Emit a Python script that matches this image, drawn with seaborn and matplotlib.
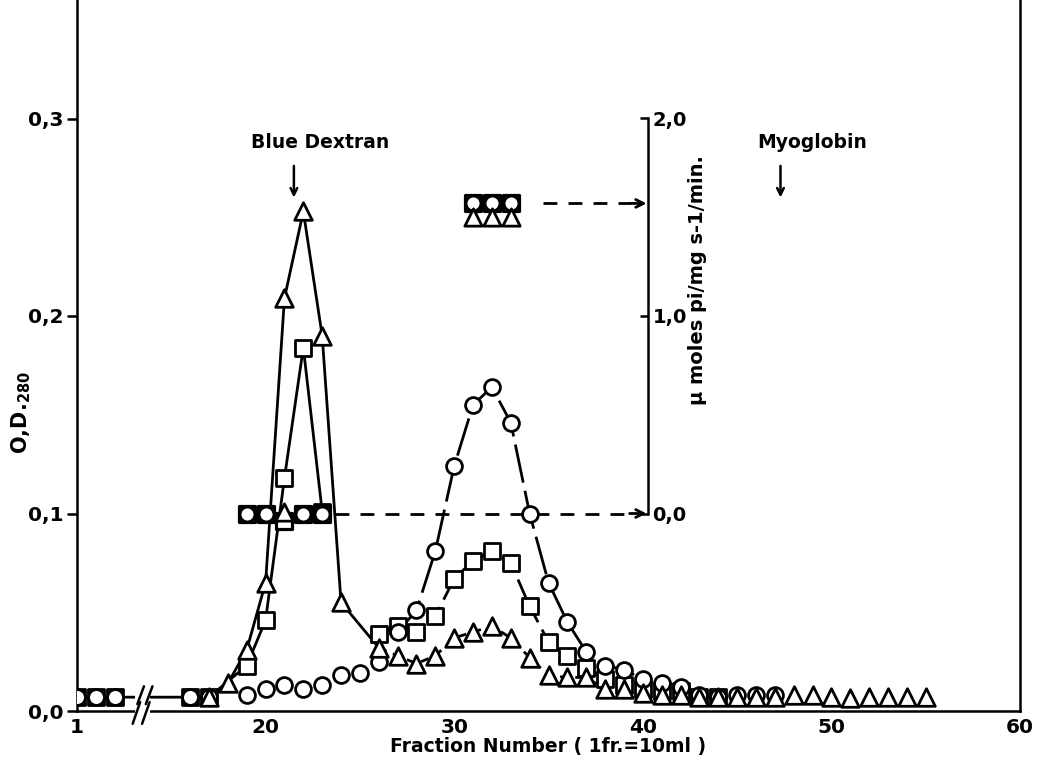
import numpy as np
import pandas as pd
import matplotlib
matplotlib.use("Agg")
import matplotlib.pyplot as plt
import seaborn as sns
from matplotlib.patches import Rectangle

# ---- elution profile: O.D. 280 per fraction for the three preparations ----
tri_fr = [17, 18, 19, 20, 21, 22, 23, 24,
          26, 27, 28, 29, 30, 31, 32, 33, 34, 35,
          36, 37, 38, 39, 40,
          41, 42, 43, 44, 45, 46, 47,
          48, 49, 50, 51, 52, 53, 54, 55]
tri_od = [0.007, 0.014, 0.031, 0.065, 0.209, 0.253, 0.190, 0.055,
          0.032, 0.028, 0.024, 0.028, 0.037, 0.040, 0.043, 0.037, 0.027, 0.018,
          0.017, 0.017, 0.011, 0.011, 0.009,
          0.008, 0.008, 0.007, 0.007, 0.007, 0.007, 0.007,
          0.008, 0.008, 0.007, 0.0065, 0.007, 0.007, 0.007, 0.007]

sq_fr = [1, 2, 3, 16, 17, 19, 20, 21, 22, 23,
         26, 27, 28, 29, 30, 31, 32, 33, 34, 35,
         36, 37, 38, 39, 40, 41, 42, 43, 44]
sq_od = [0.007, 0.007, 0.007, 0.007, 0.007, 0.023, 0.046, 0.118, 0.184, 0.101,
         0.039, 0.043, 0.040, 0.048, 0.067, 0.076, 0.081, 0.075, 0.053, 0.035,
         0.028, 0.022, 0.016, 0.013, 0.011, 0.010, 0.010, 0.007, 0.007]

ci_fr = [1, 2, 3, 16, 17,
         19, 20, 21, 22, 23, 24, 25, 26,
         27, 28, 29, 30, 31, 32, 33, 34, 35, 36, 37, 38, 39, 40,
         41, 42, 43, 44, 45, 46, 47]
ci_od = [0.007, 0.007, 0.007, 0.007, 0.007,
         0.008, 0.011, 0.013, 0.011, 0.013, 0.018, 0.019, 0.025,
         0.040, 0.051, 0.081, 0.124, 0.155, 0.164, 0.146, 0.100, 0.065, 0.045, 0.030, 0.023, 0.021, 0.016,
         0.014, 0.012, 0.008, 0.007, 0.008, 0.008, 0.008]

# ---- enzyme activity (umoles Pi / mg / min) ----
act_sq_fr = [19, 20, 21, 22, 23, 31, 32, 33]
act_sq = [0.0, 0.0, -0.04, 0.0, 0.0, 1.57, 1.57, 1.57]
act_ci_fr = [19, 20, 22, 23, 31, 32, 33]
act_ci = [0.0, 0.0, 0.0, 0.0, 1.57, 1.57, 1.57]
act_tri_fr = [21, 31, 32, 33]
act_tri = [0.01, 1.50, 1.50, 1.50]

# elution position of the calibration markers (fraction number)
marker_names = ["Blue Dextran", "Myoglobin"]
marker_fr = [21.5, 47.3]

x_tick_fr = [1, 20, 25, 30, 35, 40, 45, 50, 55, 60]
x_tick_lab = ["1", "20", "", "30", "", "40", "", "50", "", "60"]
y_ticks = [0.0, 0.1, 0.2, 0.3]
y_tick_lab = ["0,0", "0,1", "0,2", "0,3"]
act_ticks = [0.0, 1.0, 2.0]
act_tick_lab = ["0,0", "1,0", "2,0"]


def pos(fr):
    """Fractions 1-3 sit left of the axis break, the rest on the true scale."""
    fr = np.asarray(fr, dtype=float)
    return np.where(fr <= 3, fr + 9, fr)


def od_to_act(od):
    return (np.asarray(od) - 0.1) * 10.0


def act_to_od(a):
    return 0.1 + np.asarray(a) / 10.0


sns.set_style("white")
plt.rcParams["font.family"] = ["DejaVu Sans"]
plt.rcParams["font.weight"] = "bold"
plt.rcParams["axes.labelweight"] = "bold"
plt.rcParams["mathtext.default"] = "bf"
for key in ["text.color", "axes.labelcolor", "xtick.color", "ytick.color",
            "axes.edgecolor"]:
    plt.rcParams[key] = "black"

fig = plt.figure(figsize=(10.43, 7.67), dpi=100)
ax = fig.add_axes([77 / 1043, 1 - 711 / 767, (1020 - 77) / 1043, 711 / 767])
ax.set_xlim(10, 60)
ax.set_ylim(0, 0.36)

LW = 2.0
EDGE = 2.0


def seg(fr, od, lo, hi, ls):
    d = pd.DataFrame({"fr": fr, "od": od})
    d = d[(d.fr >= lo) & (d.fr <= hi)]
    sns.lineplot(x=pos(d.fr), y=d.od.values, ax=ax, color="black", lw=LW,
                 linestyle=ls, sort=False, estimator=None, zorder=2)


# connecting curves
seg(tri_fr, tri_od, 17, 26, "-")
seg(tri_fr, tri_od, 26, 38, (0, (3, 2.5)))
seg(sq_fr, sq_od, 1, 23, "-")
seg(sq_fr, sq_od, 26, 38, (0, (7, 3)))
seg(ci_fr, ci_od, 27, 40, (0, (14, 3)))


def pts(fr, y, marker, size, lw=EDGE):
    sns.scatterplot(x=pos(fr), y=np.asarray(y), ax=ax, marker=marker, s=size,
                    color="white", edgecolor="black", linewidth=lw, zorder=4,
                    legend=False)


# O.D. points
pts(sq_fr, sq_od, "s", 130)
pts(ci_fr, ci_od, "o", 130)
pts(tri_fr, tri_od, "^", 160)

# activity points, drawn on the inner activity scale
pts(act_sq_fr, act_to_od(act_sq), "s", 145, lw=2.3)
pts(act_ci_fr, act_to_od(act_ci), "o", 115, lw=2.0)
pts(act_tri_fr, act_to_od(act_tri), "^", 155)

# inner activity axis
act_axis_x = 40.3
sec = ax.secondary_yaxis((act_axis_x - 10) / 50, functions=(od_to_act, act_to_od))
sec.set_yticks(act_ticks, labels=act_tick_lab)
sec.spines["right"].set_bounds(0, 2)
sec.spines["right"].set_linewidth(1.8)
sec.tick_params(direction="in", length=6, width=1.8, labelsize=14, pad=3)
ax.text(42.9, 0.218, "\u00b5 moles pi/mg s-1/min.", rotation=90, fontsize=14,
        ha="center", va="center")

# dashed pointers from the activity points to the activity axis
for start, level in [(max(act_sq_fr[:5]) + 0.7, 0.0), (max(act_sq_fr) + 1.7, act_sq[-1])]:
    y = float(act_to_od(level))
    ax.plot([start, act_axis_x - 1.0], [y, y], color="black", lw=2,
            linestyle=(0, (5, 4)), zorder=2)
    ax.annotate("", xy=(act_axis_x - 0.1, y), xytext=(act_axis_x - 1.0, y),
                arrowprops=dict(arrowstyle="->", lw=2, color="black",
                                mutation_scale=14, shrinkA=0, shrinkB=0))

# calibration markers
for name, f in zip(marker_names, marker_fr):
    tx = f + 1.4 if name == "Blue Dextran" else f + 1.7
    ax.text(tx, 0.288, name, ha="center", va="center", fontsize=13.5)
    ax.annotate("", xy=(f, 0.260), xytext=(f, 0.276),
                arrowprops=dict(arrowstyle="->", lw=1.8, color="black",
                                mutation_scale=12, shrinkA=0, shrinkB=0))

# axes styling
for side in ["left", "bottom", "right"]:
    ax.spines[side].set_linewidth(1.8)
    ax.spines[side].set_color("black")
ax.spines["top"].set_visible(False)

ax.set_xticks(pos(x_tick_fr), labels=x_tick_lab)
ax.set_yticks(y_ticks, labels=y_tick_lab)
ax.tick_params(axis="x", direction="in", length=6, width=1.8, labelsize=14.5, pad=5)
ax.tick_params(axis="y", direction="out", length=7, width=1.8, labelsize=14.5, pad=3,
               left=True)
ax.set_xlabel("Fraction Number ( 1fr.=10ml )", fontsize=13.5, labelpad=0)
ax.set_ylabel("O,D.$_{280}$", fontsize=15)
ax.yaxis.set_label_coords(-0.047, 0.42)

# axis break between fraction 3 and fraction 16
ax.add_patch(Rectangle((13.05, -0.003), 0.8, 0.014, facecolor="white",
                       edgecolor="none", clip_on=False, zorder=3))
for x0 in (12.95, 13.45):
    ax.plot([x0, x0 + 0.4], [-0.0065, 0.0045], color="black", lw=1.8,
            clip_on=False, zorder=5)
for x0 in (13.2, 13.65):
    ax.plot([x0, x0 + 0.35], [0.0035, 0.0125], color="black", lw=1.8,
            clip_on=False, zorder=5)

fig.savefig("out.png", dpi=100)
